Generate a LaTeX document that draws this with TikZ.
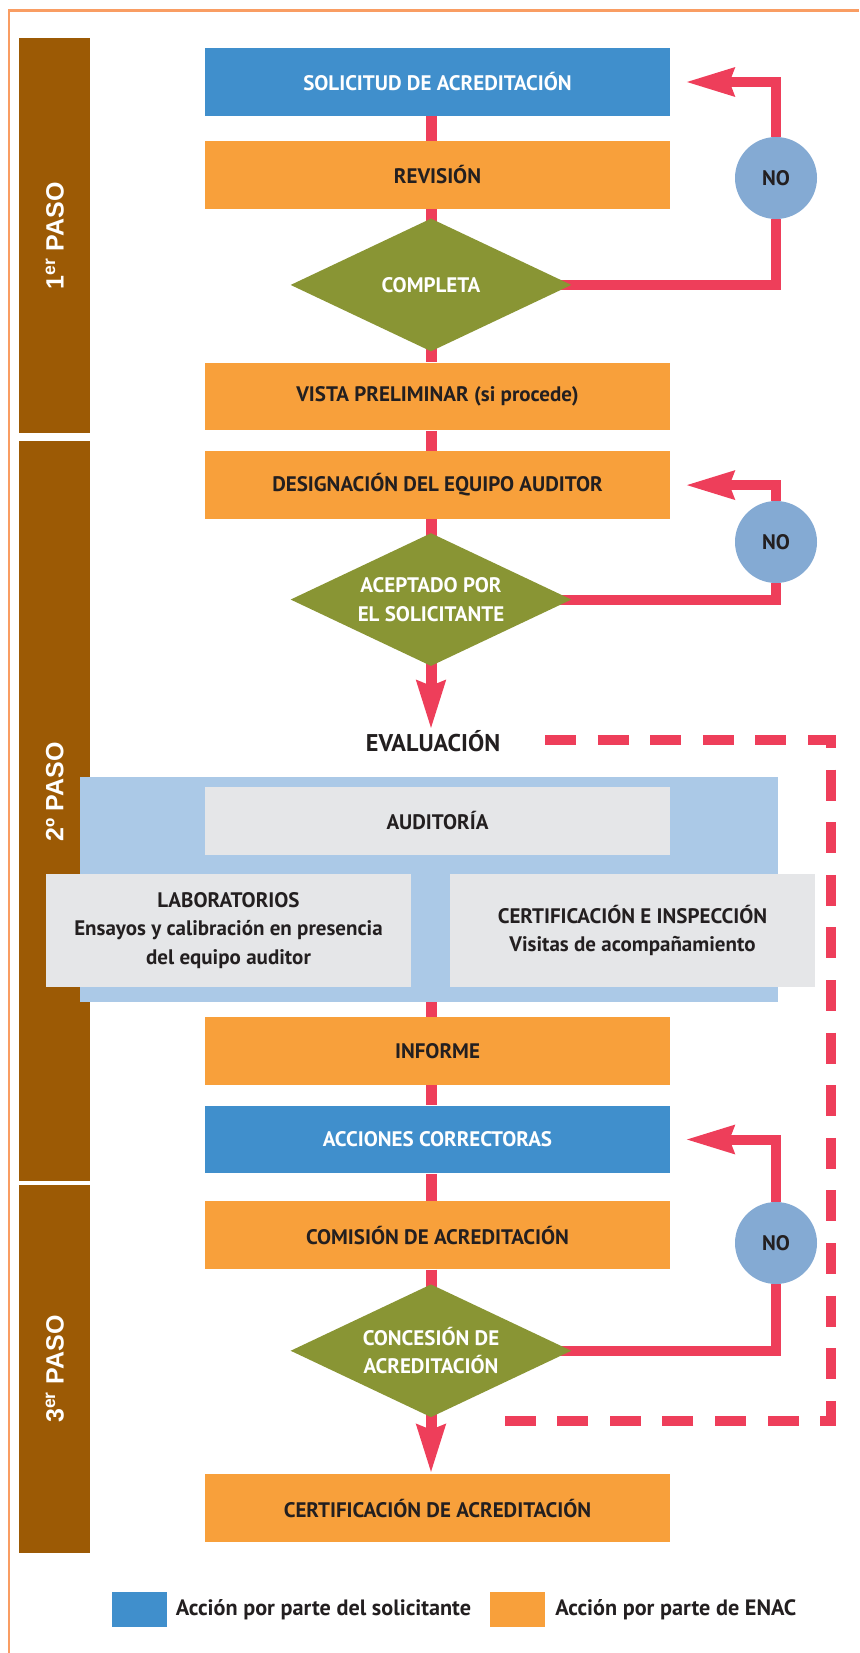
\documentclass[tikz,border=0pt]{standalone}
\usepackage{fontspec}
\setmainfont{PT Sans}
\newfontfamily\pasofont{Liberation Sans}
\usetikzlibrary{shapes.geometric,arrows.meta,positioning,backgrounds}

\definecolor{solblue}{HTML}{408FCC}
\definecolor{enacorange}{HTML}{F8A03B}
\definecolor{decgreen}{HTML}{899534}
\definecolor{flowred}{HTML}{EE3E5A}
\definecolor{noblue}{HTML}{84AAD3}
\definecolor{evalblue}{HTML}{ABC9E7}
\definecolor{boxgrey}{HTML}{E5E6E8}
\definecolor{pasobrown}{HTML}{9C5A05}
\definecolor{frameorange}{HTML}{F99D63}
\definecolor{txtdark}{HTML}{231F20}

\begin{document}
\begin{tikzpicture}[
    x=0.5pt, y=-0.5pt,
    font=\bfseries\fontsize{10.5}{14.2}\selectfont,
    actbox/.style={rectangle, minimum width=232.5pt, minimum height=33.85pt, inner sep=0pt, text=txtdark},
    solbox/.style={actbox, fill=solblue, text=white},
    enacbox/.style={actbox, fill=enacorange},
    decision/.style={diamond, aspect=2.1, fill=decgreen, text=white, minimum width=140.5pt, minimum height=66.5pt, inner sep=0pt, align=center},
    nocircle/.style={circle, fill=noblue, minimum size=41pt, inner sep=0pt, text=txtdark},
    pasobar/.style={rectangle, fill=pasobrown, minimum width=35.6pt, inner sep=0pt},
    pasolabel/.style={rotate=90, text=white, font=\pasofont\bfseries\fontsize{12.5}{15}\selectfont},
    greybox/.style={rectangle, fill=boxgrey, inner sep=0pt, align=center, text=txtdark},
    legendbox/.style={rectangle, minimum width=27.6pt, minimum height=17.35pt, inner sep=0pt},
    legendtext/.style={anchor=west, inner sep=0pt, text=txtdark, font=\bfseries\fontsize{11.1}{13}\selectfont},
    flow/.style={draw=flowred, line width=5.5pt},
    back/.style={draw=flowred, line width=5pt},
    arrow/.style={-{Stealth[length=24pt, width=13.5pt, inset=2pt]}},
    dashline/.style={draw=flowred, line width=5pt, dash pattern=on 15.5pt off 10.8pt}
]
\useasboundingbox (0,0) rectangle (859,1653);

% frame
\draw[frameorange, line width=1.15pt] (9.2,1653) -- (9.2,10.5) -- (859,10.5);

% steps
\node[pasobar, minimum height=197.5pt] (paso1) at (54.8,235.8) {};
\node[pasobar, minimum height=369.85pt] (paso2) at (54.8,810.85) {};
\node[pasobar, minimum height=184pt] (paso3) at (54.8,1369) {};
\node[pasolabel] (paso1txt) at (paso1) {1\textsuperscript{er} PASO};
\node[pasolabel] (paso2txt) at (54.8,792) {2º PASO};
\node[pasolabel] (paso3txt) at (paso3) {3\textsuperscript{er} PASO};

% first step
\node[solbox] (sol) at (437.5,82) {SOLICITUD DE ACREDITACIÓN};
\node[enacbox, below=12.15pt of sol] (rev) {REVISIÓN};
\node[decision, below=4.5pt of rev, xshift=-3.25pt] (comp) {COMPLETA};
\node[enacbox, below=76.65pt of rev] (vista) {VISTA PRELIMINAR (si procede)};
\node[nocircle] (no1) at (776,178) {NO};

% second step
\node[enacbox, below=10pt of vista] (desig) {DESIGNACIÓN DEL EQUIPO AUDITOR};
\node[decision, below=6.65pt of desig, xshift=-3.25pt] (acep) {ACEPTADO POR\\EL SOLICITANTE};
\node[nocircle] (no2) at (776,542) {NO};
\node[inner sep=0pt, text=txtdark, font=\bfseries\fontsize{12.1}{14}\selectfont] (evalua) at (433,741) {EVALUACIÓN};

% evaluation block
\node[fill=evalblue, minimum width=349pt, minimum height=112.5pt, inner sep=0pt] (evalbg) at (429,889.2) {};
\node[greybox, minimum width=232.5pt, minimum height=34.15pt] (audit) at (437.5,820.8) {AUDITORÍA};
\node[greybox, minimum width=182.5pt, minimum height=56.35pt] (lab) at (228.5,930.3)
    {LABORATORIOS\\Ensayos y calibración en presencia\\del equipo auditor};
\node[greybox, minimum width=182.5pt, minimum height=56.35pt] (certins) at (632.5,930.3)
    {CERTIFICACIÓN E INSPECCIÓN\\Visitas de acompañamiento};

\node[enacbox] (informe) at (437.5,1051) {INFORME};
\node[solbox, below=10pt of informe] (acciones) {ACCIONES CORRECTORAS};

% third step
\node[enacbox, below=13.65pt of acciones] (comision) {COMISIÓN DE ACREDITACIÓN};
\node[decision, below=7.15pt of comision, xshift=-3.25pt] (conc) {CONCESIÓN DE\\ACREDITACIÓN};
\node[nocircle] (no3) at (776,1243) {NO};
\node[enacbox, below=102.15pt of comision] (certif) {CERTIFICACIÓN DE ACREDITACIÓN};

% legend
\node[legendbox, fill=solblue] (legsol) at (139.4,1609.35) {};
\node[legendtext, right=4pt of legsol] (legsoltxt) {Acción por parte del solicitante};
\node[legendbox, fill=enacorange] (legenac) at (517.5,1609.35) {};
\node[legendtext, right=4.7pt of legenac] (legenactxt) {Acción por parte de ENAC};

% connectors
\begin{scope}[on background layer]
\draw[flow] (sol.south -| comp) -- (rev.north -| comp);
\draw[flow] (rev.south -| comp) -- (comp.center);
\draw[flow] (comp.center) -- (vista.north -| comp);
\draw[flow] (vista.south -| comp) -- (desig.north -| comp);
\draw[flow] (desig.south -| comp) -- (acep.center);
\draw[flow, arrow] (acep.center) -- (evalua.north -| acep);
\draw[flow] (evalbg.south -| comp) -- (informe.north -| comp);
\draw[flow] (informe.south -| comp) -- (acciones.north -| comp);
\draw[flow] (acciones.south -| comp) -- (comision.north -| comp);
\draw[flow] (comision.south -| comp) -- (conc.center);
\draw[flow, arrow] (conc.center) -- (certif.north -| conc);

% NO loops
\draw[back] (comp.center) -| (no1);
\draw[back, arrow] (no1) |- ([xshift=7.5pt]sol.east);
\draw[back] (acep.center) -| (no2);
\draw[back, arrow] (no2) |- ([xshift=7.5pt]desig.east);
\draw[back] (conc.center) -| (no3);
\draw[back, arrow] (no3) |- ([xshift=7.5pt]acciones.east);
\end{scope}

% evaluation loop
\coordinate (dashA) at (545,740);
\coordinate (dashC) at (831,1080);
\coordinate (dashB) at (505,1421);
\draw[dashline] (dashA) -| (dashC) |- (dashB);

\end{tikzpicture}
\end{document}
